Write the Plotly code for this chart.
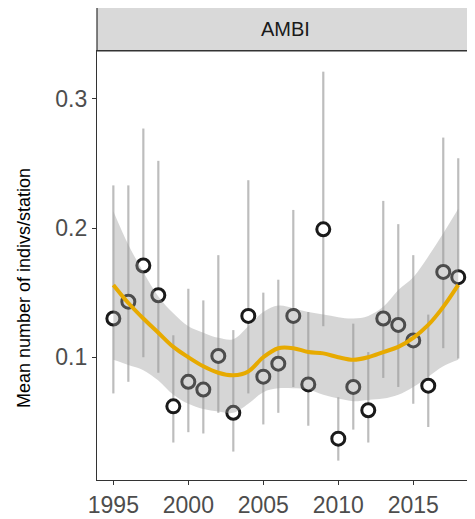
import plotly.graph_objects as go

years = list(range(1995, 2019))
mean_vals = [0.130, 0.143, 0.171, 0.148, 0.062, 0.081, 0.075, 0.101, 0.057, 0.132,
             0.085, 0.095, 0.132, 0.079, 0.199, 0.037, 0.077, 0.059, 0.130, 0.125,
             0.113, 0.078, 0.166, 0.162]
err_low = [0.072, 0.081, 0.100, 0.088, 0.034, 0.042, 0.041, 0.057, 0.027, 0.072,
           0.048, 0.057, 0.077, 0.047, 0.124, 0.020, 0.044, 0.034, 0.084, 0.077,
           0.064, 0.046, 0.107, 0.099]
err_high = [0.233, 0.233, 0.277, 0.252, 0.117, 0.153, 0.144, 0.179, 0.121, 0.237,
            0.150, 0.160, 0.214, 0.135, 0.321, 0.069, 0.126, 0.104, 0.221, 0.203,
            0.179, 0.133, 0.270, 0.254]
smooth_fit = [0.156, 0.142, 0.130, 0.119, 0.108, 0.100, 0.093, 0.088, 0.086, 0.089,
              0.100, 0.107, 0.107, 0.104, 0.103, 0.100, 0.098, 0.100, 0.104, 0.108,
              0.115, 0.125, 0.139, 0.156]
smooth_upper = [0.213, 0.187, 0.166, 0.147, 0.134, 0.124, 0.119, 0.115, 0.114, 0.124,
                0.135, 0.140, 0.138, 0.135, 0.133, 0.131, 0.130, 0.132, 0.139, 0.152,
                0.162, 0.178, 0.196, 0.215]
smooth_lower = [0.098, 0.094, 0.090, 0.082, 0.071, 0.064, 0.060, 0.058, 0.057, 0.064,
                0.073, 0.076, 0.076, 0.075, 0.071, 0.068, 0.066, 0.067, 0.068, 0.071,
                0.077, 0.085, 0.093, 0.098]
panel_label = "AMBI"
y_title = "Mean number of indivs/station"
x_ticks = [1995, 2000, 2005, 2010, 2015]
y_ticks = [0.1, 0.2, 0.3]

FONT = "Liberation Sans, Arial, sans-serif"

# error bars as segments
ex, ey = [], []
for yr, lo, hi in zip(years, err_low, err_high):
    ex += [yr, yr, None]
    ey += [lo, hi, None]

fig = go.Figure()
fig.add_trace(go.Scatter(x=ex, y=ey, mode="lines",
                         line=dict(color="#bdbdbd", width=2.2),
                         hoverinfo="skip", showlegend=False))
fig.add_trace(go.Scatter(x=years, y=mean_vals, mode="markers",
                         marker=dict(symbol="circle", size=13, color="white",
                                     line=dict(color="#1a1a1a", width=3)),
                         showlegend=False))
fig.add_trace(go.Scatter(x=years, y=smooth_lower, mode="lines",
                         line=dict(width=0, color="rgba(0,0,0,0)", shape="spline"),
                         hoverinfo="skip", showlegend=False))
fig.add_trace(go.Scatter(x=years, y=smooth_upper, mode="lines", fill="tonexty",
                         fillcolor="rgba(153,153,153,0.4)",
                         line=dict(width=0, color="rgba(0,0,0,0)", shape="spline"),
                         hoverinfo="skip", showlegend=False))
fig.add_trace(go.Scatter(x=years, y=smooth_fit, mode="lines",
                         line=dict(color="#E7AA00", width=4, shape="spline"),
                         showlegend=False))

PH = 429.0  # plot height in px
PW = 377.0  # plot width in px

# strip
fig.add_shape(type="rect", xref="paper", yref="paper", x0=0, x1=1, y0=1, y1=1 + 43.5 / PH,
              fillcolor="#d9d9d9", line=dict(color="#333333", width=1.2), layer="below")
fig.add_annotation(text=panel_label, xref="paper", yref="paper", x=0.5, y=1 + 21.5 / PH,
                   showarrow=False, font=dict(family=FONT, size=20, color="#1a1a1a"),
                   xanchor="center", yanchor="middle")
fig.add_annotation(text=y_title, xref="paper", yref="paper", x=(16 - 89) / PW,
                   y=(472 - 280) / PH, textangle=-90, showarrow=False,
                   font=dict(family=FONT, size=18, color="#000000"),
                   xanchor="center", yanchor="middle")

fig.update_layout(
    width=467, height=511,
    margin=dict(l=89, r=1, t=43, b=39),
    paper_bgcolor="white", plot_bgcolor="white",
    font=dict(family=FONT),
    xaxis=dict(range=[1993.91, 2019.05], tickvals=x_ticks, showgrid=False,
               zeroline=False, showline=True, linecolor="#333333", linewidth=1.2,
               mirror=True, ticks="outside", ticklen=4, tickcolor="#333333",
               tickfont=dict(size=23, color="#4d4d4d", family=FONT)),
    yaxis=dict(range=[0.005, 0.337], tickvals=y_ticks, ticktext=["0.1", "0.2", "0.3"],
               showgrid=False, zeroline=False, showline=True, linecolor="#333333",
               linewidth=1.2, mirror=True, ticks="outside", ticklen=4,
               tickcolor="#333333",
               tickfont=dict(size=23, color="#4d4d4d", family=FONT)),
)

fig.write_html("out.html")
